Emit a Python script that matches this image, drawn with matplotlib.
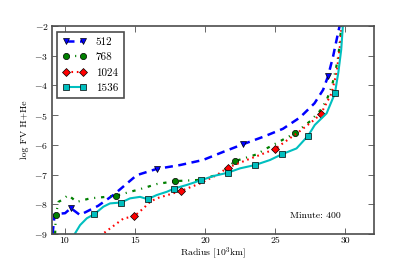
import matplotlib
matplotlib.use("Agg")
import matplotlib.pyplot as plt

plt.rcParams['font.family'] = ['cmr10', 'DejaVu Serif']
plt.rcParams['mathtext.fontset'] = 'cm'
plt.rcParams['axes.formatter.use_mathtext'] = True

# ---- data ----
x512 = [9.15, 9.30, 10.04, 10.45, 11.10, 12.40, 13.50, 15.14, 16.56, 18.22, 19.86,
        21.28, 22.70, 24.20, 25.55, 26.76, 27.80, 28.41, 28.77, 29.12, 29.37, 29.60, 29.65]
y512 = [-9.00, -8.33, -8.30, -8.13, -8.36, -8.05, -7.68, -7.02, -6.81, -6.68, -6.51,
        -6.24, -5.98, -5.72, -5.46, -5.08, -4.60, -4.15, -3.68, -3.03, -2.47, -1.97, -1.80]
m512 = [3, 8, 12, 18]

x768 = [9.33, 9.38, 9.57, 9.83, 10.26, 10.87, 11.82, 12.75, 13.67, 15.38, 16.56, 17.87,
        19.64, 21.06, 22.13, 23.68, 24.39, 26.40, 27.50, 28.20, 28.66, 29.05, 29.30,
        29.50, 29.65, 29.72, 29.75]
y768 = [-9.00, -8.36, -7.92, -7.85, -7.69, -7.92, -7.80, -7.76, -7.71, -7.49, -7.32, -7.22,
        -7.18, -6.98, -6.55, -6.32, -6.12, -5.61, -5.20, -4.85, -4.50, -4.00, -3.50,
        -3.00, -2.30, -1.95, -1.80]
m768 = [1, 8, 11, 14, 17]

x1024 = [12.60, 12.77, 14.19, 14.97, 15.61, 16.09, 16.56, 17.75, 18.29, 19.64, 20.83, 21.61,
         22.97, 23.91, 24.98, 26.75, 27.80, 28.25, 29.01, 29.38, 29.60, 29.73, 29.76]
y1024 = [-9.10, -8.98, -8.48, -8.40, -8.14, -7.92, -7.80, -7.63, -7.55, -7.30, -7.02, -6.77,
         -6.51, -6.34, -6.14, -5.54, -5.15, -4.96, -4.27, -3.55, -2.72, -2.00, -1.80]
m1024 = [3, 8, 11, 14, 17]

x1536 = [10.70, 10.75, 11.11, 11.59, 12.13, 12.77, 13.24, 14.03, 14.67, 15.38, 15.92, 16.56,
         17.28, 17.82, 18.70, 19.72, 20.59, 21.61, 22.50, 23.56, 24.63, 25.46, 26.52,
         27.35, 27.82, 28.66, 29.25, 29.50, 29.70, 29.82, 29.85]
y1536 = [-9.05, -8.98, -8.70, -8.47, -8.33, -8.08, -7.97, -7.94, -7.80, -7.75, -7.83, -7.69,
         -7.58, -7.47, -7.35, -7.19, -7.05, -6.94, -6.79, -6.68, -6.51, -6.32, -6.12,
         -5.69, -5.33, -4.94, -4.27, -3.55, -2.80, -2.00, -1.80]
m1536 = [4, 7, 10, 13, 15, 17, 19, 21, 23, 26]

xticks = [10, 15, 20, 25, 30]
xticklabels = ['10', '15', '20', '25', '30']
yticks = [-9, -8, -7, -6, -5, -4, -3, -2]

fig = plt.figure(figsize=(4.15, 2.6), dpi=100)
ax = fig.add_axes([0.125, 0.1, 0.775, 0.8])

ax.plot(x512, y512, color='b', lw=1.8, marker='v', ms=4.5, mec='k', mew=0.5,
        markevery=m512, label='512', ls=(0, (3.2, 2.2)))
ax.plot(x768, y768, color='g', lw=1.6, marker='o', ms=4.5, mec='k', mew=0.5,
        markevery=m768, label='768', ls=(0, (1.5, 2.6, 0.5, 2.6)))
ax.plot(x1024, y1024, color='r', lw=1.5, marker='D', ms=4.0, mec='k', mew=0.5,
        markevery=m1024, label='1024', ls=(0, (0.8, 1.8)))
ax.plot(x1536, y1536, color='c', ls='-', lw=1.5, marker='s', ms=4.0, mec='k', mew=0.5,
        markevery=m1536, label='1536')

ax.set_xlim(9.1, 32)
ax.set_ylim(-9, -2)
ax.set_xticks(xticks)
ax.set_xticklabels(xticklabels)
ax.set_yticks(yticks)
ax.tick_params(direction='in', top=True, right=True, length=4, width=0.6,
               labelsize=7, color='0.3')
ax.tick_params(axis='x', pad=2)
ax.tick_params(axis='y', pad=2.5)
for s in ax.spines.values():
    s.set_linewidth(1.2)
    s.set_color('0.3')

ax.set_xlabel(r'Radius [10$^3$km]', fontsize=7)
ax.set_ylabel('log FV H+He', fontsize=7)
ax.xaxis.set_label_coords(0.5, -0.052)
ax.yaxis.set_label_coords(-0.072, 0.5)
ax.text(0.741, 0.087, 'Minute: 400', transform=ax.transAxes, fontsize=7, va='center')

leg = ax.legend(loc='upper left', fontsize=8, numpoints=2, handlelength=2.1,
                handletextpad=0.85, labelspacing=0.5, borderaxespad=0.5, borderpad=0.5,
                fancybox=False, framealpha=1)
leg.get_frame().set_edgecolor('0.3')
leg.get_frame().set_linewidth(1.2)

fig.savefig('out.png', dpi=100)
